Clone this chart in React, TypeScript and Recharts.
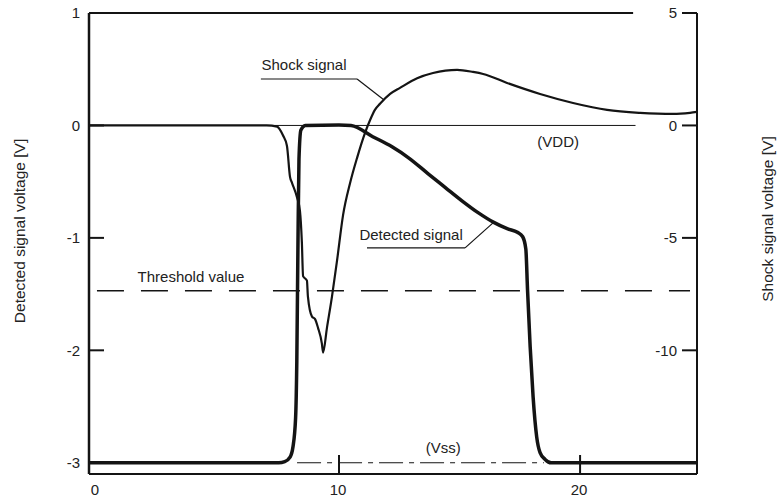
import React from 'react';
import { LineChart, Line, XAxis, YAxis, ReferenceLine, ReferenceDot } from 'recharts';

// time axis (x) and the two traces
const detectedX = [-0.37, 7.2, 7.5, 7.75, 7.97, 8.09, 8.2, 8.25, 8.3, 8.34, 8.42, 8.6, 10.0, 10.5, 11.4, 12.2, 12.9, 13.7, 14.4, 15.1, 15.8, 16.4, 17.0, 17.4, 17.62, 17.75, 17.82, 17.93, 18.05, 18.2, 18.34, 18.55, 18.8, 24.85];
const detectedV = [-3.0, -3.0, -3.0, -2.99, -2.95, -2.86, -2.6, -2.1, -1.0, -0.3, -0.04, 0, 0.005, 0, -0.1, -0.19, -0.29, -0.43, -0.55, -0.67, -0.78, -0.86, -0.92, -0.95, -0.99, -1.1, -1.46, -1.97, -2.41, -2.77, -2.91, -2.97, -3.0, -3.0];

const shockX = [-0.37, 7.0, 7.43, 7.68, 7.84, 7.97, 8.05, 8.26, 8.38, 8.46, 8.51, 8.67, 8.71, 8.88, 9.0, 9.13, 9.29, 9.34, 9.5, 9.71, 9.92, 10.17, 10.46, 10.75, 11.08, 11.29, 11.49, 11.7, 12.12, 12.53, 13.24, 13.9, 14.9, 15.56, 15.98, 16.97, 18.34, 19.71, 21.12, 22.49, 23.86, 24.56, 24.85];
const shockV = [0, 0, -0.05, -0.45, -0.9, -2.3, -2.55, -3.2, -3.8, -5.2, -6.7, -6.9, -7.6, -8.5, -8.6, -9.0, -9.7, -10.1, -9.0, -7.6, -6.0, -3.98, -2.56, -1.44, -0.33, 0.24, 0.69, 0.96, 1.4, 1.67, 2.1, 2.33, 2.47, 2.38, 2.29, 1.89, 1.4, 1.0, 0.69, 0.56, 0.51, 0.56, 0.6];

const xTicks = [0, 10, 20];
const leftTicks = [1, 0, -1, -2, -3];
const rightTicks = [5, 0, -5, -10];

const THRESHOLD = -1.47;
const VDD = 0;
const VSS = -3;

const detected = detectedX.map((x, i) => ({ x, v: detectedV[i] }));
const shock = shockX.map((x, i) => ({ x, v: shockV[i] }));

const FONT = '"Liberation Sans", Arial, sans-serif';
const INK = '#141414';
const TXT = '#222';

const XTick = ({ x, y, payload }: any) => (
  <g>
    {payload.value !== 0 && <line x1={x} x2={x} y1={y - 19} y2={y} stroke={INK} strokeWidth={2} />}
    <text x={x - (payload.value === 0 ? 3 : 1)} y={y + 21} textAnchor="middle" fontSize={15} fontFamily={FONT} fill={TXT}>
      {payload.value}
    </text>
  </g>
);

const LeftTick = ({ x, y, payload }: any) => (
  <g>
    <line x1={x} x2={x + 15} y1={y} y2={y} stroke={INK} strokeWidth={2} />
    <text x={x - 9} y={y} dy="0.35em" textAnchor="end" fontSize={15} fontFamily={FONT} fill={TXT}>
      {payload.value}
    </text>
  </g>
);

const RightTick = ({ x, y, payload }: any) => (
  <g>
    <line x1={x - 15} x2={x} y1={y} y2={y} stroke={INK} strokeWidth={2} />
    <text x={x - 20} y={y} dy="0.35em" textAnchor="end" fontSize={15} fontFamily={FONT} fill={TXT}>
      {payload.value}
    </text>
  </g>
);

const axisTitle = (text: string, dx: number, dy: number) => (props: any) => {
  const vb = props.viewBox || { x: 0, y: 13 };
  const cx = vb.x + dx;
  const cy = vb.y + dy;
  return (
    <text x={cx} y={cy} transform={`rotate(-90, ${cx}, ${cy})`} textAnchor="middle" dominantBaseline="central" fontSize={15.5} fontFamily={FONT} fill={TXT}>
      {text}
    </text>
  );
};

const note = (key: string, text: string, x: number, y: number) => (
  <ReferenceDot
    key={key}
    yAxisId="left"
    x={x}
    y={y}
    r={1}
    ifOverflow="visible"
    shape={(p: any) => (
      <text x={p.cx} y={p.cy} dy="0.35em" textAnchor="middle" fontSize={15} fontFamily={FONT} fill={TXT}>
        {text}
      </text>
    )}
  />
);

const seg = (key: string, x1: number, y1: number, x2: number, y2: number, width: number, dash?: string) => (
  <ReferenceLine
    key={key}
    yAxisId="left"
    segment={[{ x: x1, y: y1 }, { x: x2, y: y2 }]}
    stroke={INK}
    strokeWidth={width}
    strokeDasharray={dash}
    ifOverflow="visible"
  />
);

export default function App() {
  return (
    <div style={{ position: 'absolute', left: 0, top: 0, width: 782, height: 499, background: '#fff' }}>
      <LineChart width={782} height={499} margin={{ top: 13, right: 0, bottom: 0, left: 0 }}>
        <XAxis
          type="number"
          dataKey="x"
          domain={[-0.37, 24.85]}
          allowDataOverflow
          ticks={xTicks}
          height={25}
          tickSize={0}
          tickMargin={0}
          tickLine={false}
          tick={<XTick />}
          axisLine={{ stroke: INK, strokeWidth: 2 }}
        />
        <YAxis
          yAxisId="left"
          domain={[-3.1, 1]}
          allowDataOverflow
          ticks={leftTicks}
          width={89}
          tickSize={0}
          tickMargin={0}
          tickLine={false}
          tick={<LeftTick />}
          axisLine={{ stroke: INK, strokeWidth: 2.5 }}
          label={{ content: axisTitle('Detected signal voltage [V]', 19, 218) }}
        />
        <YAxis
          yAxisId="right"
          orientation="right"
          domain={[-15.5, 5]}
          allowDataOverflow
          ticks={rightTicks}
          width={85}
          tickSize={0}
          tickMargin={0}
          tickLine={false}
          tick={<RightTick />}
          axisLine={{ stroke: INK, strokeWidth: 2 }}
          label={{ content: axisTitle('Shock signal voltage [V]', 70, 206) }}
        />

        {/* frame top, VDD, threshold, Vss */}
        {seg('top', -0.37, 1, 22.2, 1, 2)}
        {seg('vdd', -0.37, VDD, 22.3, VDD, 1)}
        {seg('thr', -0.04, THRESHOLD, 24.56, THRESHOLD, 1.5, '27 17')}
        {seg('vss', 8.26, VSS, 18.5, VSS, 1.2, '24 6 5 6')}

        {/* callout leaders */}
        {seg('s-under', 6.76, 0.413, 10.75, 0.413, 1.2)}
        {seg('s-lead', 10.75, 0.413, 11.87, 0.227, 1.2)}
        {seg('d-under', 11.16, -1.089, 15.23, -1.089, 1.2)}
        {seg('d-lead', 15.23, -1.089, 16.39, -0.867, 1.2)}

        {note('n1', 'Shock signal', 8.55, 0.538)}
        {note('n2', 'Detected signal', 12.99, -0.973)}
        {note('n3', 'Threshold value', 3.86, -1.347)}
        {note('n4', '(VDD)', 19.09, -0.147)}
        {note('n5', '(Vss)', 14.32, -2.87)}

        <Line
          yAxisId="right"
          data={shock}
          dataKey="v"
          type="monotone"
          stroke={INK}
          strokeWidth={2.2}
          dot={false}
          activeDot={false}
          isAnimationActive={false}
        />
        <Line
          yAxisId="left"
          data={detected}
          dataKey="v"
          type="monotone"
          stroke={INK}
          strokeWidth={3.5}
          dot={false}
          activeDot={false}
          isAnimationActive={false}
        />
      </LineChart>
    </div>
  );
}
